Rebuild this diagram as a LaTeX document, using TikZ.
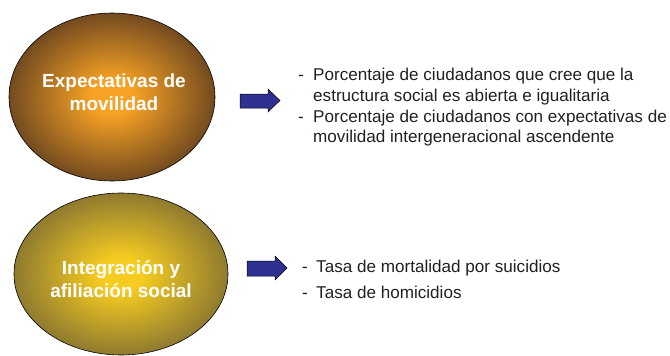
\documentclass[tikz,border=0pt]{standalone}
\usepackage{fontspec}
\setmainfont{Liberation Sans}
\definecolor{oin}{HTML}{F7A224}
\definecolor{oout}{HTML}{66421F}
\definecolor{yin}{HTML}{F6CC20}
\definecolor{yout}{HTML}{857231}
\definecolor{txt}{HTML}{231F20}
\definecolor{arrowblue}{HTML}{2E3192}
\pgfdeclareradialshading{orangeball}{\pgfpoint{0bp}{0bp}}{color(0bp)=(oin); color(5bp)=(oin); color(27bp)=(oout); color(50bp)=(oout)}
\pgfdeclareradialshading{yellowball}{\pgfpoint{0bp}{0bp}}{color(0bp)=(yin); color(5bp)=(yin); color(27bp)=(yout); color(50bp)=(yout)}
\begin{document}
\begin{tikzpicture}[x=1pt,y=-1pt,
  title/.style={text=white,font=\bfseries\fontsize{19}{22.5}\selectfont,align=center,inner sep=0pt},
  item/.style={text=txt,font=\fontsize{17.1}{20}\selectfont,anchor=base west,inner sep=0pt},
  blockarrow/.style={fill=arrowblue,draw=black,line width=0.5pt,line join=miter}]
\useasboundingbox (0,0) rectangle (670,356);
% ellipses
\path[shading=orangeball,draw=black,line width=0.6pt] (112,97) ellipse [x radius=103,y radius=84];
\path[shading=yellowball,draw=black,line width=0.6pt] (121,274) ellipse [x radius=107,y radius=81];
\node[title] (t1) at (114,92) {Expectativas de\\movilidad};
\node[title] (t2) at (121,279) {Integración y\\afiliación social};
% arrows
\draw[blockarrow] (240,94) -- (268,94) -- (268,89) -- (280,100.5) -- (268,112) -- (268,108) -- (240,108) -- cycle;
\draw[blockarrow] (247,261) -- (275,261) -- (275,256) -- (287,268) -- (275,280) -- (275,276) -- (247,276) -- cycle;
% list 1
\node[item] (d1) at (298,80) {-};
\node[item] (l1a) at (313,80) {Porcentaje de ciudadanos que cree que la};
\node[item] (l1b) at (313,101) {estructura social es abierta e igualitaria};
\node[item] (d2) at (298,122) {-};
\node[item] (l1c) at (313,122) {Porcentaje de ciudadanos con expectativas de};
\node[item] (l1d) at (313,142.5) {movilidad intergeneracional ascendente};
% list 2
\node[item] (d3) at (302,272) {-};
\node[item] (l2a) at (316,272) {Tasa de mortalidad por suicidios};
\node[item] (d4) at (302,298) {-};
\node[item] (l2b) at (316,298) {Tasa de homicidios};
\end{tikzpicture}
\end{document}
